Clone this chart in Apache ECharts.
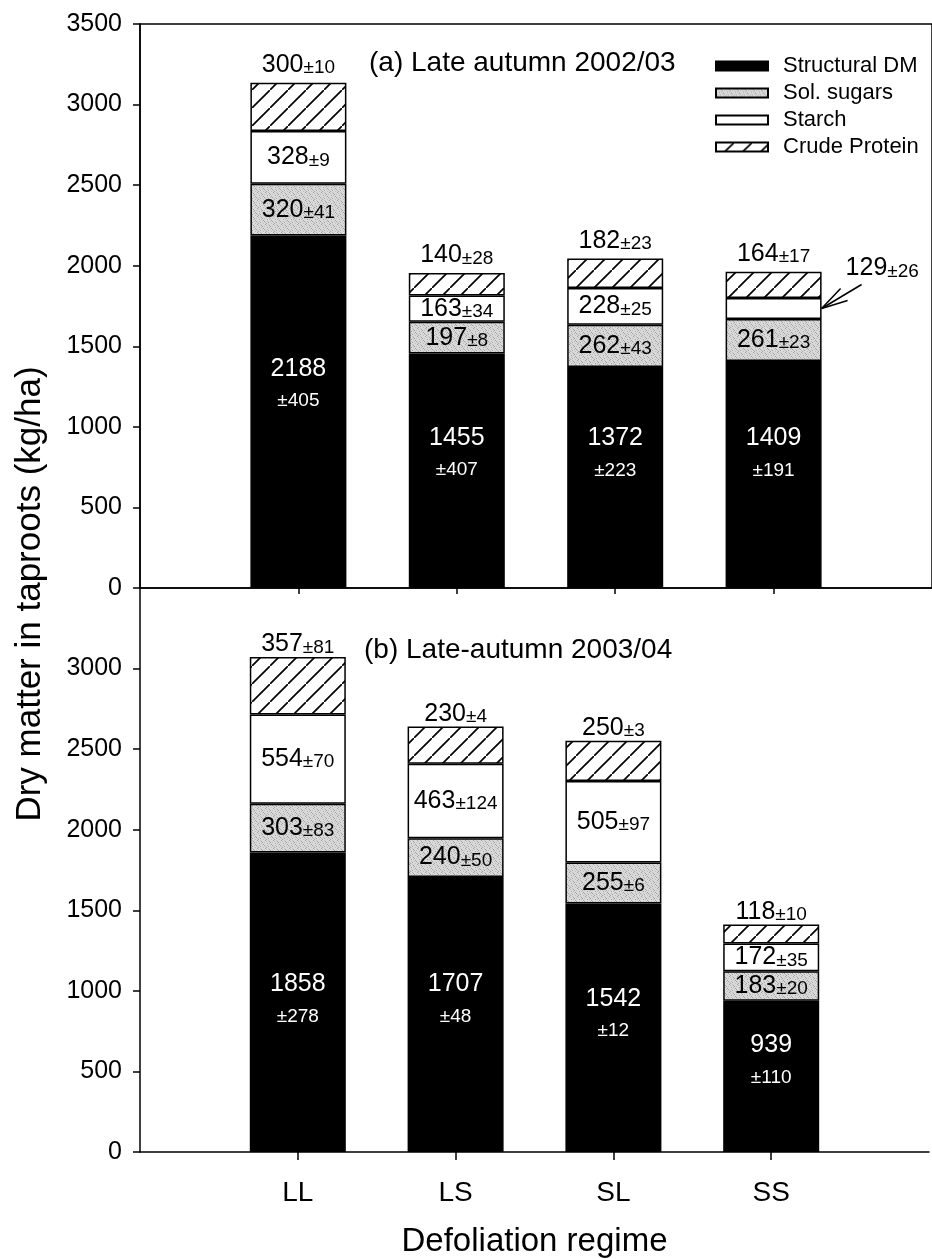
<!DOCTYPE html>
<html>
<head>
<meta charset="utf-8">
<script src="https://cdn.jsdelivr.net/npm/echarts@6/dist/echarts.min.js"></script>
<style>
  html, body { margin: 0; padding: 0; background: #fff; }
  #chart { width: 932px; height: 1259px; }
</style>
</head>
<body>
<div id="chart"></div>
<script>
// ---------------- data ----------------
const categories = ['LL', 'LS', 'SL', 'SS'];
const components = ['Structural DM', 'Sol. sugars', 'Starch', 'Crude Protein'];
const panelTitles = ['(a) Late autumn 2002/03', '(b) Late-autumn 2003/04'];
const yAxisTitle = 'Dry matter in taproots (kg/ha)';
const xAxisTitle = 'Defoliation regime';
const yMin = 0, yMax = 3500, yStep = 500;

// Panel (a) 2002/03
const structural0203 = [2188, 1455, 1372, 1409];
const structuralErr0203 = [405, 407, 223, 191];
const sugars0203 = [320, 197, 262, 261];
const sugarsErr0203 = [41, 8, 43, 23];
const starch0203 = [328, 163, 228, 129];
const starchErr0203 = [9, 34, 25, 26];
const protein0203 = [300, 140, 182, 164];
const proteinErr0203 = [10, 28, 23, 17];

// Panel (b) 2003/04
const structural0304 = [1858, 1707, 1542, 939];
const structuralErr0304 = [278, 48, 12, 110];
const sugars0304 = [303, 240, 255, 183];
const sugarsErr0304 = [83, 50, 6, 20];
const starch0304 = [554, 463, 505, 172];
const starchErr0304 = [70, 124, 97, 35];
const protein0304 = [357, 230, 250, 118];
const proteinErr0304 = [81, 4, 3, 10];

// ---------------- styling helpers ----------------
const FONT = '"Liberation Sans", Arial, Helvetica, sans-serif';
const BAR_W = 96;
// vertical shift (px) of the structural DM labels, per panel / category
const structLabelShift = [[-27, -17, -23, -20], [-2, -14, -13, -15]];

function hatchPattern() {
  const c = document.createElement('canvas');
  c.width = 18; c.height = 18;
  const g = c.getContext('2d');
  g.fillStyle = '#fff'; g.fillRect(0, 0, 18, 18);
  g.strokeStyle = '#000'; g.lineWidth = 1.7;
  g.beginPath();
  g.moveTo(-2, 20); g.lineTo(20, -2);
  g.stroke();
  return c;
}
function stipplePattern() {
  const c = document.createElement('canvas');
  c.width = 8; c.height = 8;
  const g = c.getContext('2d');
  g.fillStyle = '#dadada'; g.fillRect(0, 0, 8, 8);
  const dark = [[1,0],[5,1],[3,3],[7,4],[0,5],[4,6],[2,7],[6,2]];
  const mid = [[2,1],[6,5],[0,2],[4,0],[7,7],[3,5],[5,3],[1,6]];
  g.fillStyle = '#a0a0a0'; dark.forEach(p => g.fillRect(p[0], p[1], 1, 1));
  g.fillStyle = '#bdbdbd'; mid.forEach(p => g.fillRect(p[0], p[1], 1, 1));
  return c;
}
const fills = ['#000000', { image: stipplePattern(), repeat: 'repeat' }, '#ffffff', { image: hatchPattern(), repeat: 'repeat' }];

const panels = [
  { vals: [structural0203, sugars0203, starch0203, protein0203],
    errs: [structuralErr0203, sugarsErr0203, starchErr0203, proteinErr0203] },
  { vals: [structural0304, sugars0304, starch0304, protein0304],
    errs: [structuralErr0304, sugarsErr0304, starchErr0304, proteinErr0304] }
];

const axisCats = [''].concat(categories, ['']);

const richBlack = {
  n: { fontSize: 25, fontFamily: FONT, color: '#000', lineHeight: 25, verticalAlign: 'bottom' },
  e: { fontSize: 19, fontFamily: FONT, color: '#000', lineHeight: 21, verticalAlign: 'bottom' }
};
const richWhite = {
  n: { fontSize: 25, fontFamily: FONT, color: '#fff', lineHeight: 32 },
  e: { fontSize: 19, fontFamily: FONT, color: '#fff', lineHeight: 32 }
};

const series = [];
panels.forEach((p, pi) => {
  components.forEach((name, ci) => {
    const vals = p.vals[ci], errs = p.errs[ci];
    const data = ['-'];
    vals.forEach((v, k) => {
      const item = { value: v };
      if (ci === 0) item.label = { offset: [0, structLabelShift[pi][k]] };
      if (pi === 0 && ci === 2 && categories[k] === 'SS') item.label = { show: false };
      data.push(item);
    });
    data.push('-');
    let label;
    if (ci === 0) {
      label = { show: true, position: 'inside', rich: richWhite,
        formatter: prm => '{n|' + prm.value + '}\n{e|±' + errs[prm.dataIndex - 1] + '}' };
    } else if (ci === 3) {
      label = { show: true, position: 'top', distance: pi === 0 ? 5 : 0, rich: richBlack,
        formatter: prm => '{n|' + prm.value + '}{e|±' + errs[prm.dataIndex - 1] + '}' };
    } else {
      label = { show: true, position: 'inside', rich: richBlack,
        formatter: prm => '{n|' + prm.value + '}{e|±' + errs[prm.dataIndex - 1] + '}' };
    }
    series.push({
      type: 'bar', name: name, stack: 'p' + pi,
      xAxisIndex: pi, yAxisIndex: pi,
      barWidth: BAR_W,
      data: data,
      itemStyle: { color: fills[ci], borderColor: '#000', borderWidth: 1.5 },
      label: label,
      emphasis: { disabled: true },
      animation: false
    });
  });
});

const commonY = (gi, hideMax) => ({
  type: 'value', gridIndex: gi, min: yMin, max: yMax, interval: yStep,
  axisLine: { show: true, lineStyle: { color: '#000', width: 1.5 } },
  axisTick: { show: true, inside: false, length: 7, lineStyle: { color: '#000', width: 1.5 } },
  axisLabel: { color: '#000', fontSize: 25, fontFamily: FONT, margin: 18, showMaxLabel: !hideMax,
    formatter: v => (hideMax && v === yMax) ? '' : String(v) },
  splitLine: { show: false }
});

const option = {
  backgroundColor: '#ffffff',
  animation: false,
  grid: [
    { left: 140, top: 24, width: 800, height: 564, show: true, borderColor: '#000', borderWidth: 1.5, backgroundColor: 'transparent' },
    { left: 140, top: 588, width: 800, height: 564 }
  ],
  xAxis: [
    { type: 'category', gridIndex: 0, data: axisCats, boundaryGap: false,
      axisLine: { show: true, lineStyle: { color: '#000', width: 1.5 } },
      axisTick: { show: true, length: 6, interval: (i) => i > 0 && i < axisCats.length - 1, lineStyle: { color: '#000', width: 1.5 } },
      axisLabel: { show: false }, splitLine: { show: false } },
    { type: 'category', gridIndex: 1, data: axisCats, boundaryGap: false,
      axisLine: { show: true, lineStyle: { color: '#000', width: 1.5 } },
      axisTick: { show: true, length: 8, interval: (i) => i > 0 && i < axisCats.length - 1, lineStyle: { color: '#000', width: 1.5 } },
      axisLabel: { show: true, interval: 0, color: '#000', fontSize: 28, fontFamily: FONT, margin: 27 },
      splitLine: { show: false },
      name: xAxisTitle, nameLocation: 'middle', nameGap: 73,
      nameTextStyle: { color: '#000', fontSize: 33, fontFamily: FONT } }
  ],
  yAxis: [commonY(0, false), commonY(1, true)],
  legend: {
    show: true, orient: 'vertical', left: 710, top: 48,
    data: components, icon: 'rect', itemWidth: 52, itemHeight: 9, itemGap: 1,
    selectedMode: false,
    textStyle: { color: '#000', fontSize: 22, fontFamily: FONT, lineHeight: 26, padding: [0, 0, 0, 10] }
  },
  graphic: [
    { id: 'ytitle', type: 'text', x: 30, y: 594, rotation: Math.PI / 2,
      style: { text: yAxisTitle, font: '35px ' + FONT, fill: '#000', align: 'center', verticalAlign: 'middle' } },
    { id: 'ta', type: 'text', x: 369, y: 63,
      style: { text: panelTitles[0], font: '28px ' + FONT, fill: '#000', align: 'left', verticalAlign: 'middle' } },
    { id: 'tb', type: 'text', x: 364, y: 650,
      style: { text: panelTitles[1], font: '28px ' + FONT, fill: '#000', align: 'left', verticalAlign: 'middle' } }
  ],
  series: series
};

const chart = echarts.init(document.getElementById('chart'), null, { renderer: 'canvas' });
chart.setOption(option);

// annotation for the thin SS starch segment in panel (a)
(function () {
  const k = categories.indexOf('SS');
  const mid = structural0203[k] + sugars0203[k] + starch0203[k] / 2;
  const pt = chart.convertToPixel({ xAxisIndex: 0, yAxisIndex: 0 }, [categories[k], mid]);
  const tx = pt[0] + BAR_W / 2, ty = pt[1];
  const ls = { stroke: '#000', lineWidth: 1.5 };
  chart.setOption({
    graphic: [
      { id: 'ann-shaft', type: 'line', shape: { x1: tx, y1: ty, x2: tx + 40, y2: ty - 24 }, style: ls },
      { id: 'ann-b1', type: 'line', shape: { x1: tx, y1: ty, x2: tx + 26, y2: ty - 8 }, style: ls },
      { id: 'ann-b2', type: 'line', shape: { x1: tx, y1: ty, x2: tx + 19, y2: ty - 20 }, style: ls },
      { id: 'ann-text', type: 'text', x: tx + 24, y: ty - 40,
        style: { rich: richBlack, text: '{n|' + starch0203[k] + '}{e|±' + starchErr0203[k] + '}',
          align: 'left', verticalAlign: 'middle' } }
    ]
  });
})();
</script>
</body>
</html>
